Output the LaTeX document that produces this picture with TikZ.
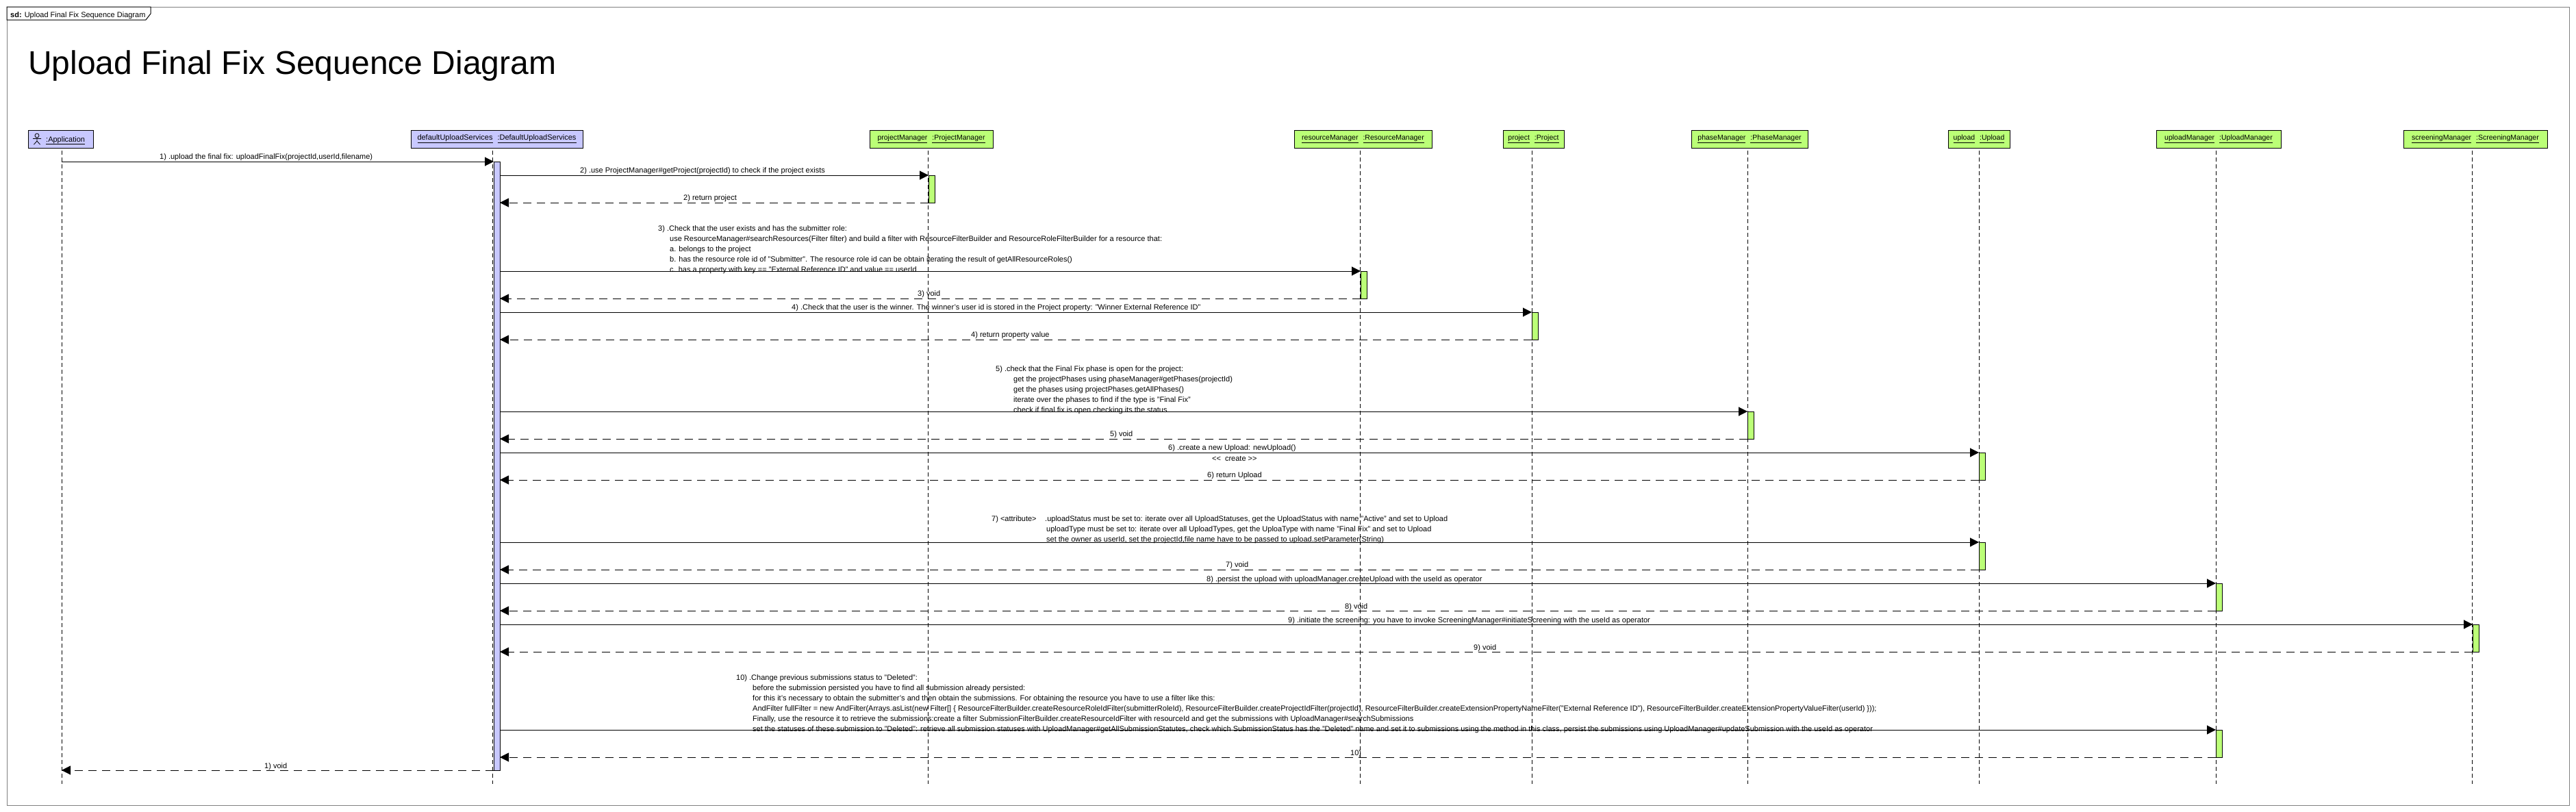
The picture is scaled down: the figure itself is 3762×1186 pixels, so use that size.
\documentclass[tikz,border=0pt]{standalone}
\usepackage{fontspec}
\setmainfont{Liberation Sans}
\usetikzlibrary{arrows.meta,calc}

\definecolor{mainfill}{HTML}{C8C8FF}
\definecolor{objfill}{HTML}{BBFF77}

\tikzset{
  frameline/.style={draw=black!50,line width=1pt},
  objbox/.style={draw=black,line width=1pt,fill=objfill,minimum height=26pt,inner sep=0pt,font=\fontsize{10.5}{12}\selectfont},
  mainbox/.style={objbox,fill=mainfill,font=\fontsize{11}{12}\selectfont},
  lifeline/.style={line width=.8pt,dash pattern=on 6pt off 4pt},
  activebar/.style={draw=black,line width=1pt,fill=objfill,minimum width=9pt,inner sep=0pt,outer sep=0pt},
  call/.style={line width=1pt,-{Triangle[length=13pt,width=13pt]}},
  ret/.style={line width=1pt,dash pattern=on 12pt off 8pt,-{Triangle[length=13pt,width=13pt]}},
  msg/.style={anchor=base west,inner sep=0pt,font=\fontsize{11}{12}\selectfont},
}

\begin{document}
\begin{tikzpicture}[x=1pt,y=-1pt]
\useasboundingbox (0,0) rectangle (3762,1186);

% frame
\draw[frameline] (10,10) rectangle (3752,1176);
\draw[line width=1pt,fill=white] (10,10) -- (220,10) -- (220,20) -- (213,29) -- (10,29) -- cycle;
\node[msg] (framelabel) at (15,25) {\textbf{sd:} Upload Final Fix Sequence Diagram};
\node[anchor=base west,inner sep=0pt,font=\fontsize{48}{50}\selectfont] (title) at (41,108) {Upload Final Fix Sequence Diagram};

% objects
\node[mainbox,minimum width=95pt] (app) at (89,203) {};
\node[msg] (applabel) at (67,207) {\underline{:Application}};
\node[mainbox,minimum width=251pt] (services) at (725.5,203) {\underline{defaultUploadServices}\hspace{7pt}\underline{:DefaultUploadServices}};
\node[objbox,minimum width=180pt] (project) at (1360,203) {\underline{projectManager}\hspace{7pt}\underline{:ProjectManager}};
\node[objbox,minimum width=201pt] (resource) at (1990.5,203) {\underline{resourceManager}\hspace{7pt}\underline{:ResourceManager}};
\node[objbox,minimum width=89pt] (proj) at (2239.5,203) {\underline{project}\hspace{7pt}\underline{:Project}};
\node[objbox,minimum width=170pt] (phase) at (2555,203) {\underline{phaseManager}\hspace{7pt}\underline{:PhaseManager}};
\node[objbox,minimum width=90pt] (upload) at (2890,203) {\underline{upload}\hspace{7pt}\underline{:Upload}};
\node[objbox,minimum width=182pt] (uploadmgr) at (3240,203) {\underline{uploadManager}\hspace{7pt}\underline{:UploadManager}};
\node[objbox,minimum width=210pt] (screening) at (3615,203) {\underline{screeningManager}\hspace{7pt}\underline{:ScreeningManager}};

% actor figure
\draw[line width=.8pt] (54,198) circle (3)
  (54,201) -- (54,206) (48,202.5) -- (60,202.5)
  (49.5,211) -- (54,206) -- (58.5,211);

% lifelines
\foreach \name/\xpos in {app/90,services/719.5,project/1355,resource/1986,proj/2237,phase/2552,upload/2890,uploadmgr/3236,screening/3610}{
  \coordinate (\name-top) at (\xpos,220);
  \coordinate (\name-end) at (\xpos,1145);
  \draw[lifeline] (\name-top) -- (\name-end);
}

% activations
\node[activebar,fill=mainfill,minimum height=889pt,anchor=north west] (bar1) at (721,236) {};
\foreach \barname/\xpos/\ypos in {bar2/1356/256,bar3/1987/396,bar4/2237/456,bar5/2552/601,bar6/2890/661,bar7/2890/792,bar8/3236/852,bar9/3611/912,bar10/3236/1066}{
  \node[activebar,minimum height=40pt,anchor=north west] (\barname) at (\xpos,\ypos) {};
}

% messages
\coordinate (m1) at (90,236);
\draw[call] (m1) -- (m1 -| bar1.west);
\draw[ret] (bar1.south west) -- (bar1.south west -| app-top);

\draw[call] (bar1.east |- bar2.north) -- (bar2.north west);
\draw[ret] (bar2.south west) -- (bar1.east |- bar2.south);
\draw[call] (bar1.east |- bar3.north) -- (bar3.north west);
\draw[ret] (bar3.south west) -- (bar1.east |- bar3.south);
\draw[call] (bar1.east |- bar4.north) -- (bar4.north west);
\draw[ret] (bar4.south west) -- (bar1.east |- bar4.south);
\draw[call] (bar1.east |- bar5.north) -- (bar5.north west);
\draw[ret] (bar5.south west) -- (bar1.east |- bar5.south);
\draw[call] (bar1.east |- bar6.north) -- (bar6.north west);
\draw[ret] (bar6.south west) -- (bar1.east |- bar6.south);
\draw[call] (bar1.east |- bar7.north) -- (bar7.north west);
\draw[ret] (bar7.south west) -- (bar1.east |- bar7.south);
\draw[call] (bar1.east |- bar8.north) -- (bar8.north west);
\draw[ret] (bar8.south west) -- (bar1.east |- bar8.south);
\draw[call] (bar1.east |- bar9.north) -- (bar9.north west);
\draw[ret] (bar9.south west) -- (bar1.east |- bar9.south);
\draw[call] (bar1.east |- bar10.north) -- (bar10.north west);
\draw[ret] (bar10.south west) -- (bar1.east |- bar10.south);

% labels
\node[msg] (t1) at (233,232) {1) .upload the final fix: uploadFinalFix(projectId,userId,filename)};
\node[msg] (t1r) at (386,1122) {1) void};
\node[msg] (t2) at (847,252) {2) .use ProjectManager\#getProject(projectId) to check if the project exists};
\node[msg] (t2r) at (998,292) {2) return project};

\node[msg] (t3a) at (961,337) {3) .Check that the user exists and has the submitter role:};
\node[msg] (t3b) at (978,352) {use ResourceManager\#searchResources(Filter filter) and build a filter with ResourceFilterBuilder and ResourceRoleFilterBuilder for a resource that:};
\node[msg] (t3c) at (978,367) {a. belongs to the project};
\node[msg] (t3d) at (978,382) {b. has the resource role id of "Submitter". The resource role id can be obtain iterating the result of getAllResourceRoles()};
\node[msg] (t3e) at (978,397) {c. has a property with key == "External Reference ID" and value == userId};
\node[msg] (t3r) at (1340,432) {3) void};

\node[msg] (t4) at (1156,452) {4) .Check that the user is the winner. The winner's user id is stored in the Project property: "Winner External Reference ID"};
\node[msg] (t4r) at (1418,492) {4) return property value};

\node[msg] (t5a) at (1454,542) {5) .check that the Final Fix phase is open for the project:};
\node[msg] (t5b) at (1480,557) {get the projectPhases using phaseManager\#getPhases(projectId)};
\node[msg] (t5c) at (1480,572) {get the phases using projectPhases.getAllPhases()};
\node[msg] (t5d) at (1480,587) {iterate over the phases to find if the type is "Final Fix"};
\node[msg] (t5e) at (1480,602) {check if final fix is open checking its the status};
\node[msg] (t5r) at (1621,637) {5) void};

\node[msg] (t6) at (1706,657) {6) .create a new Upload: newUpload()};
\node[msg] (t6c) at (1770,673) {<{}<\hspace{6pt}create >{}>};
\node[msg] (t6r) at (1763,697) {6) return Upload};

\node[msg] (t7a) at (1448,761) {7) <attribute>};
\node[msg] (t7b) at (1526,761) {.uploadStatus must be set to: iterate over all UploadStatuses, get the UploadStatus with name "Active" and set to Upload};
\node[msg] (t7c) at (1528,776) {uploadType must be set to: iterate over all UploadTypes, get the UploaType with name "Final Fix" and set to Upload};
\node[msg] (t7d) at (1528,791) {set the owner as userId, set the projectId,file name have to be passed to upload.setParameter(String)};
\node[msg] (t7r) at (1790,828) {7) void};

\node[msg] (t8) at (1762,849) {8) .persist the upload with uploadManager.createUpload with the useId as operator};
\node[msg] (t8r) at (1964,889) {8) void};
\node[msg] (t9) at (1881,909) {9) .initiate the screening: you have to invoke ScreeningManager\#initiateScreening with the useId as operator};
\node[msg] (t9r) at (2152,949) {9) void};

\node[msg] (t10a) at (1075,993) {10) .Change previous submissions status to "Deleted":};
\node[msg] (t10b) at (1099,1008) {before the submission persisted you have to find all submission already persisted:};
\node[msg] (t10c) at (1099,1023) {for this it's necessary to obtain the submitter's and then obtain the submissions. For obtaining the resource you have to use a filter like this:};
\node[msg] (t10d) at (1099,1038) {AndFilter fullFilter = new AndFilter(Arrays.asList(new Filter[] \{ ResourceFilterBuilder.createResourceRoleIdFilter(submitterRoleId), ResourceFilterBuilder.createProjectIdFilter(projectId), ResourceFilterBuilder.createExtensionPropertyNameFilter("External Reference ID"), ResourceFilterBuilder.createExtensionPropertyValueFilter(userId) \}));};
\node[msg] (t10e) at (1099,1053) {Finally, use the resource it to retrieve the submissions:create a filter SubmissionFilterBuilder.createResourceIdFilter with resourceId and get the submissions with UploadManager\#searchSubmissions};
\node[msg] (t10f) at (1099,1068) {set the statuses of these submission to "Deleted": retrieve all submission statuses with UploadManager\#getAllSubmissionStatutes, check which SubmissionStatus has the "Deleted" name and set it to submissions using the method in this class, persist the submissions using UploadManager\#updateSubmission with the useId as operator};
\node[msg] (t10r) at (1972,1103) {10)};

\end{tikzpicture}
\end{document}
